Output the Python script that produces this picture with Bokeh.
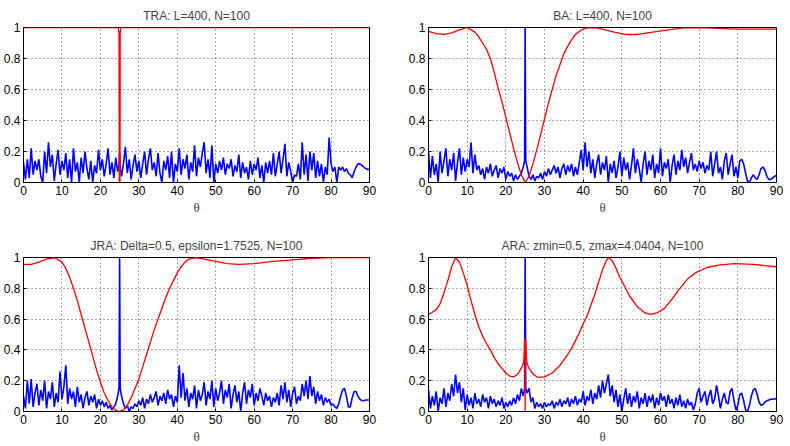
import numpy as np
from bokeh.plotting import figure
from bokeh.layouts import gridplot
from bokeh.models import Range1d, FixedTicker
from bokeh.embed import file_html
from bokeh.resources import INLINE

# ---------------- data ----------------
theta = np.arange(0, 90.25, 0.5)          # 0, 0.5, ..., 90  (181 samples)
spike_theta = [24.85, 25.15]

x_ticks = [0, 10, 20, 30, 40, 50, 60, 70, 80, 90]
y_ticks = [0, 0.2, 0.4, 0.6, 0.8, 1.0]
y_tick_labels = ["0", "0.2", "0.4", "0.6", "0.8", "1"]

titles = ["TRA: L=400, N=100", "BA: L=400, N=100",
          "JRA: Delta=0.5, epsilon=1.7525, N=100",
          "ARA: zmin=0.5, zmax=4.0404, N=100"]

tra_blue = [
 0.13,0.02,0.15,0.03,0.22,0.05,0.14,0.08,0.15,0.04, 0.0,0.2,0.06,0.26,0.1,0.18,0.01,0.12,0.21,0.05,
 0.14,0.08,0.19,0.03,0.15,0.0,0.22,0.07,0.13,0.0, 0.16,0.06,0.2,0.09,0.02,0.14,0.0,0.11,0.06,0.21,
 0.08,0.15,0.04,0.12,0.22,0.05,0.13,0.03,0.16,0.07, 0.19,0.04,0.12,0.23,0.06,0.15,0.02,0.11,0.18,0.07,
 0.14,0.03,0.12,0.2,0.05,0.15,0.22,0.08,0.13,0.04, 0.19,0.06,0.0,0.14,0.08,0.17,0.03,0.2,0.0,0.12,
 0.07,0.22,0.05,0.15,0.09,0.18,0.02,0.13,0.07,0.24, 0.04,0.16,0.1,0.19,0.26,0.06,0.15,0.03,0.24,0.0,
 0.12,0.06,0.14,0.08,0.16,0.05,0.12,0.09,0.15,0.04, 0.11,0.07,0.18,0.03,0.13,0.06,0.1,0.02,0.14,0.05,
 0.12,0.08,0.16,0.03,0.11,0.0,0.13,0.06,0.14,0.05, 0.19,0.04,0.12,0.2,0.06,0.15,0.25,0.04,0.13,0.07,
 0.0,0.05,0.04,0.12,0.02,0.26,0.05,0.18,0.01,0.2, 0.08,0.19,0.03,0.14,0.04,0.12,0.0,0.1,0.05,0.29,
 0.12,0.07,0.1,0.0,0.1,0.08,0.1,0.07,0.09,0.06, 0.05,0.03,0.07,0.1,0.12,0.12,0.11,0.1,0.09,0.085,
 0.085]
tra_spike = [0.12, 0.1]

ba_blue = [
 0.2,0.03,0.17,0.05,0.12,0.0,0.2,0.06,0.14,0.22, 0.04,0.15,0.08,0.19,0.01,0.13,0.22,0.05,0.16,0.07,
 0.15,0.1,0.26,0.06,0.18,0.08,0.11,0.05,0.09,0.02, 0.1,0.06,0.12,0.04,0.08,0.11,0.03,0.09,0.06,0.1,
 0.02,0.07,0.04,0.06,0.01,0.05,0.02,0.04,0.06,0.1, 1.0,0.1,0.04,0.02,0.05,0.01,0.04,0.03,0.06,0.02,
 0.07,0.04,0.09,0.05,0.08,0.11,0.06,0.1,0.03,0.09, 0.12,0.05,0.11,0.07,0.12,0.04,0.1,0.05,0.13,0.21,
 0.08,0.26,0.1,0.2,0.06,0.15,0.03,0.12,0.18,0.05, 0.13,0.08,0.17,0.0,0.12,0.06,0.14,0.03,0.1,0.2,
 0.04,0.16,0.08,0.13,0.02,0.11,0.22,0.06,0.15,0.09, 0.0,0.12,0.2,0.05,0.14,0.08,0.18,0.03,0.12,0.06,
 0.22,0.04,0.13,0.09,0.15,0.0,0.11,0.18,0.05,0.14, 0.08,0.21,0.1,0.16,0.06,0.13,0.19,0.08,0.12,0.07,
 0.14,0.09,0.13,0.06,0.11,0.08,0.2,0.04,0.12,0.2, 0.06,0.1,0.02,0.14,0.19,0.05,0.12,0.18,0.04,0.1,
 0.03,0.14,0.15,0.12,0.06,0.01,0.0,0.03,0.05,0.03, 0.02,0.05,0.09,0.1,0.08,0.04,0.02,0.02,0.03,0.04,
 0.045]
ba_spike = [0.14, 0.14]

jra_blue = [
 0.1,0.02,0.2,0.05,0.21,0.03,0.12,0.18,0.04,0.14, 0.07,0.2,0.02,0.13,0.08,0.19,0.03,0.12,0.06,0.26,
 0.08,0.16,0.3,0.05,0.15,0.08,0.13,0.03,0.16,0.06, 0.11,0.02,0.09,0.13,0.04,0.1,0.06,0.11,0.02,0.08,
 0.04,0.07,0.03,0.06,0.02,0.04,0.01,0.03,0.05,0.1, 1.0,0.1,0.05,0.02,0.04,0.0,0.03,0.02,0.05,0.03,
 0.07,0.04,0.09,0.02,0.08,0.05,0.11,0.06,0.09,0.13, 0.04,0.1,0.07,0.12,0.05,0.14,0.08,0.11,0.03,0.1,
 0.06,0.3,0.09,0.25,0.07,0.15,0.03,0.12,0.08,0.17, 0.02,0.14,0.07,0.11,0.19,0.04,0.13,0.08,0.2,0.03,
 0.15,0.07,0.12,0.2,0.05,0.14,0.09,0.18,0.02,0.11, 0.17,0.06,0.13,0.0,0.12,0.19,0.05,0.14,0.09,0.18,
 0.04,0.12,0.07,0.15,0.1,0.04,0.12,0.07,0.1,0.03, 0.09,0.06,0.12,0.04,0.17,0.08,0.19,0.06,0.14,0.03,
 0.12,0.16,0.05,0.1,0.07,0.18,0.1,0.2,0.08,0.23, 0.1,0.16,0.05,0.13,0.07,0.11,0.04,0.09,0.06,0.08,
 0.04,0.05,0.03,0.02,0.05,0.1,0.14,0.15,0.1,0.03, 0.03,0.09,0.13,0.13,0.1,0.08,0.07,0.07,0.075,0.075,
 0.075]
jra_spike = [0.15, 0.15]

ara_blue = [
 0.14,0.02,0.1,0.04,0.13,0.0,0.09,0.05,0.15,0.03, 0.12,0.07,0.18,0.1,0.24,0.12,0.19,0.06,0.15,0.01,
 0.11,0.04,0.09,0.02,0.12,0.05,0.08,0.03,0.11,0.06, 0.09,0.02,0.1,0.05,0.08,0.03,0.07,0.04,0.09,0.02,
 0.06,0.03,0.07,0.04,0.09,0.05,0.11,0.07,0.15,0.1, 1.0,0.12,0.15,0.06,0.09,0.02,0.06,0.03,0.05,0.02,
 0.06,0.03,0.05,0.04,0.07,0.02,0.06,0.04,0.08,0.03, 0.07,0.05,0.09,0.03,0.08,0.05,0.1,0.04,0.08,0.06,
 0.13,0.04,0.1,0.07,0.14,0.05,0.12,0.08,0.17,0.09, 0.2,0.12,0.18,0.24,0.1,0.17,0.06,0.14,0.03,0.11,
 0.0,0.08,0.15,0.05,0.12,0.03,0.1,0.06,0.13,0.02, 0.09,0.05,0.12,0.03,0.1,0.06,0.11,0.02,0.09,0.04,
 0.12,0.07,0.1,0.03,0.11,0.05,0.08,0.02,0.09,0.04, 0.11,0.03,0.07,0.02,0.08,0.04,0.06,0.01,0.05,0.12,
 0.15,0.06,0.1,0.13,0.04,0.1,0.14,0.05,0.08,0.17, 0.1,0.02,0.08,0.12,0.06,0.05,0.13,0.15,0.07,0.01,
 0.04,0.11,0.12,0.07,0.01,0.0,0.04,0.1,0.14,0.15, 0.11,0.06,0.04,0.045,0.06,0.07,0.075,0.08,0.08,0.082,
 0.085]
ara_spike = [0.15, 0.15]

# red curves (theta, value)
tra_red_theta = [0, 24.6, 24.85, 24.9, 25.0, 25.1, 25.15, 25.4, 90]
tra_red = [1.0, 1.0, 0.97, 0.0, 0.0, 0.0, 0.97, 1.0, 1.0]

ba_red_theta = [0, 2, 4, 6, 8, 10, 12, 13, 14, 15, 16, 17, 18, 19, 20, 21, 22, 23, 24, 25,
                26, 27, 28, 29, 30, 31, 32, 33, 34, 35, 36, 37, 38, 39, 40, 41, 43, 45, 48,
                51, 54, 58, 62, 66, 70, 75, 80, 85, 90]
ba_red = [0.975, 0.96, 0.955, 0.965, 0.985, 1.0, 0.97, 0.94, 0.9, 0.86, 0.8, 0.71, 0.61,
          0.52, 0.42, 0.32, 0.22, 0.13, 0.05, 0.0, 0.04, 0.12, 0.21, 0.31, 0.41, 0.51,
          0.6, 0.69, 0.76, 0.83, 0.88, 0.92, 0.955, 0.975, 0.99, 0.997, 1.0, 0.99, 0.97,
          0.955, 0.955, 0.97, 0.985, 0.997, 1.0, 0.995, 0.99, 0.99, 0.99]

jra_red_theta = [0, 2, 4, 6, 8, 10, 11, 12, 13, 14, 15, 16, 17, 18, 19, 20, 21, 22, 23, 24,
                 25, 26, 27, 28, 29, 30, 31, 32, 33, 34, 35, 36, 37, 38, 39, 40, 41, 42, 43,
                 45, 47, 50, 53, 56, 60, 65, 70, 75, 80, 90]
jra_red = [0.955, 0.955, 0.97, 0.99, 1.0, 0.97, 0.93, 0.87, 0.8, 0.72, 0.63, 0.54, 0.45,
           0.36, 0.27, 0.19, 0.12, 0.07, 0.03, 0.008, 0.0, 0.01, 0.04, 0.09, 0.15, 0.21,
           0.29, 0.37, 0.45, 0.53, 0.6, 0.67, 0.74, 0.8, 0.85, 0.9, 0.94, 0.97, 0.99, 1.0,
           0.99, 0.975, 0.96, 0.955, 0.96, 0.975, 0.985, 0.995, 1.0, 1.0]

ara_red_theta = [0, 2, 3, 4, 5, 6, 7, 8, 9, 10, 11, 12, 13, 14, 15, 16, 17, 18, 19, 20, 21,
                 22, 23, 24, 24.5, 24.7, 24.85, 24.95, 25.0, 25.05, 25.15, 25.3, 25.5, 26, 27,
                 28, 29, 30, 32, 34, 36, 37, 38, 39, 40, 41, 42, 43, 44, 45, 46, 46.6, 47.5,
                 48.5, 49.5, 51, 52, 54, 56, 57.5, 59, 61, 63, 65, 67, 69, 72, 75, 79, 84, 90]
ara_red = [0.63, 0.66, 0.7, 0.77, 0.85, 0.94, 1.0, 0.97, 0.9, 0.82, 0.72, 0.63, 0.55,
           0.49, 0.44, 0.4, 0.35, 0.31, 0.28, 0.25, 0.23, 0.225, 0.24, 0.28, 0.31, 0.35,
           0.47, 0.32, 0.0, 0.32, 0.47, 0.35, 0.31, 0.28, 0.245, 0.225, 0.222, 0.225, 0.25,
           0.3, 0.37, 0.41, 0.46, 0.51, 0.57, 0.62, 0.69, 0.76, 0.84, 0.92, 0.98, 1.0, 0.98,
           0.93, 0.87, 0.8, 0.75, 0.68, 0.64, 0.63, 0.64, 0.67, 0.73, 0.8, 0.86, 0.9, 0.935,
           0.95, 0.96, 0.955, 0.94]

blues = [(tra_blue, tra_spike), (ba_blue, ba_spike), (jra_blue, jra_spike), (ara_blue, ara_spike)]
reds = [(tra_red_theta, tra_red), (ba_red_theta, ba_red), (jra_red_theta, jra_red),
        (ara_red_theta, ara_red)]

FONT = "Liberation Sans"
borders = [(22, 26, 27, 41), (33, 14, 27, 41), (22, 26, 34, 33), (33, 14, 34, 33)]

figs = []
for i in range(4):
    l, r, t, b = borders[i]
    p = figure(width=395, height=223, output_backend="svg", toolbar_location=None,
               x_range=Range1d(0, 90), y_range=Range1d(0, 1),
               min_border_left=l, min_border_right=r, min_border_top=t, min_border_bottom=b,
               title=titles[i])
    p.title.text_font = FONT
    p.title.text_font_size = "12px"
    p.title.text_font_style = "normal"
    p.title.align = "center"
    p.title.standoff = 9
    p.outline_line_color = "black"
    p.outline_line_width = 1
    p.outline_line_alpha = 1

    bv, sv = blues[i]
    xs = np.concatenate([theta, spike_theta])
    ys = np.concatenate([np.array(bv, dtype=float), np.array(sv, dtype=float)])
    order = np.argsort(xs, kind="stable")
    p.line(xs[order], ys[order], line_color="#0000ff", line_width=1.6)

    rt, rv = reds[i]
    p.line(rt, rv, line_color="#ff0000", line_width=1.3)

    p.xaxis.ticker = FixedTicker(ticks=x_ticks)
    p.yaxis.ticker = FixedTicker(ticks=y_ticks)
    p.yaxis.major_label_overrides = {v: s for v, s in zip(y_ticks, y_tick_labels)}
    p.xaxis.axis_label = "θ"
    p.xaxis.axis_label_text_font = "Liberation Serif"
    p.xaxis.axis_label_text_font_size = "13px"
    p.xaxis.axis_label_text_font_style = "normal"
    p.xaxis.axis_label_standoff = 2
    for ax in (p.xaxis, p.yaxis):
        ax.major_label_text_font = FONT
        ax.major_label_text_font_size = "12px"
        ax.major_label_text_color = "black"
        ax.major_label_standoff = 3
        ax.axis_line_color = "black"
        ax.major_tick_line_color = "black"
        ax.major_tick_in = 3
        ax.major_tick_out = 0
        ax.minor_tick_line_color = None
    for g in (p.xgrid, p.ygrid):
        g.grid_line_color = "black"
        g.grid_line_alpha = 0.7
        g.grid_line_dash = "1 3"
        g.grid_line_width = 1
    p.background_fill_color = "white"
    p.border_fill_color = "white"
    figs.append(p)

grid = gridplot([[figs[0], figs[1]], [figs[2], figs[3]]], toolbar_location=None)
open("out.html", "w").write(file_html(grid, INLINE))
